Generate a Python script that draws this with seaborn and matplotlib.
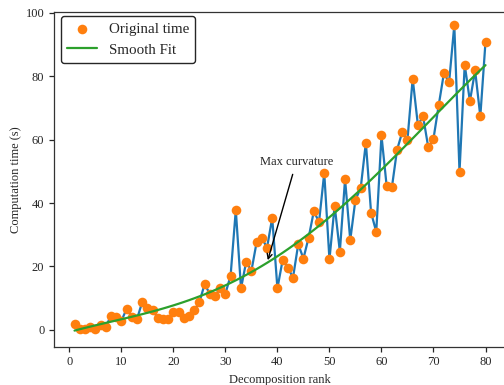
import numpy as np
import pandas as pd
import matplotlib
matplotlib.use("Agg")
import matplotlib.pyplot as plt
import seaborn as sns

# Measured computation time for each decomposition rank
ranks = list(range(1, 81))
times = [1.8, 0.3, 0.2, 0.8, 0.4, 1.5, 0.9, 4.5, 4.0, 2.8,
         6.6, 4.2, 3.4, 8.7, 6.8, 6.3, 3.7, 3.4, 3.5, 5.5,
         5.6, 3.9, 4.5, 6.2, 8.7, 14.4, 11.4, 10.6, 13.3, 11.4,
         17.1, 37.8, 13.1, 21.5, 18.6, 27.6, 29.0, 25.9, 35.3, 13.1,
         22.0, 19.6, 16.5, 27.0, 22.5, 29.1, 37.4, 34.0, 49.5, 22.2,
         39.2, 24.7, 47.5, 28.3, 41.1, 44.6, 59.0, 37.0, 30.9, 61.3,
         45.3, 44.9, 56.8, 62.4, 60.0, 79.2, 64.6, 67.3, 57.5, 60.3,
         70.8, 80.9, 78.1, 96.1, 49.8, 83.6, 72.1, 81.8, 67.3, 90.9]
knee_rank = 38
x_ticks = [0, 10, 20, 30, 40, 50, 60, 70, 80]
y_ticks = [0, 20, 40, 60, 80, 100]

df = pd.DataFrame({"rank": ranks, "time": times})

# smooth polynomial trend through the measurements
coef = np.polyfit(df["rank"], df["time"], 4)
df["fit"] = np.polyval(coef, df["rank"])
knee_time = float(np.polyval(coef, knee_rank))

sns.set_theme(style="ticks", palette="tab10")
plt.rcParams["font.family"] = ["Liberation Serif", "DejaVu Serif"]
plt.rcParams.update({
    "axes.linewidth": 0.9,
    "axes.edgecolor": "0.2",
    "xtick.major.size": 3.5,
    "ytick.major.size": 3.5,
    "xtick.major.width": 0.9,
    "ytick.major.width": 0.9,
    "xtick.labelsize": 9,
    "ytick.labelsize": 9,
    "axes.labelsize": 9,
    "xtick.color": "0.15",
    "ytick.color": "0.15",
})

pal = sns.color_palette("tab10")
fig = plt.figure(figsize=(5.04, 3.85), dpi=100)
ax = fig.add_axes([0.1071, 0.0995, 0.897, 0.870])

sns.lineplot(data=df, x="rank", y="time", ax=ax, color=pal[0], linewidth=1.6,
             legend=False)
sns.scatterplot(data=df, x="rank", y="time", ax=ax, color=pal[1], s=48,
                linewidth=0, label="Original time", zorder=3)
sns.lineplot(data=df, x="rank", y="fit", ax=ax, color=pal[2], linewidth=1.6,
             label="Smooth Fit", zorder=4)

ax.annotate("Max curvature", xy=(knee_rank, knee_time), xytext=(43.6, 52.8),
            ha="center", va="center", fontsize=9,
            arrowprops=dict(arrowstyle="->", color="black", lw=1.0))

ax.set_xlim(-2.95, 83.95)
ax.set_ylim(-5.3, 100.3)
ax.set_xticks(x_ticks)
ax.set_yticks(y_ticks)
ax.set_xlabel("Decomposition rank")
ax.set_ylabel("Computation time (s)")
ax.yaxis.set_label_coords(-0.0708, 0.5)

leg = ax.legend(loc="upper left", bbox_to_anchor=(0.0155, 0.987),
                borderaxespad=0, fontsize=10.8, frameon=True, framealpha=1,
                edgecolor="0.15", fancybox=True)

fig.savefig("out.png", dpi=100)
